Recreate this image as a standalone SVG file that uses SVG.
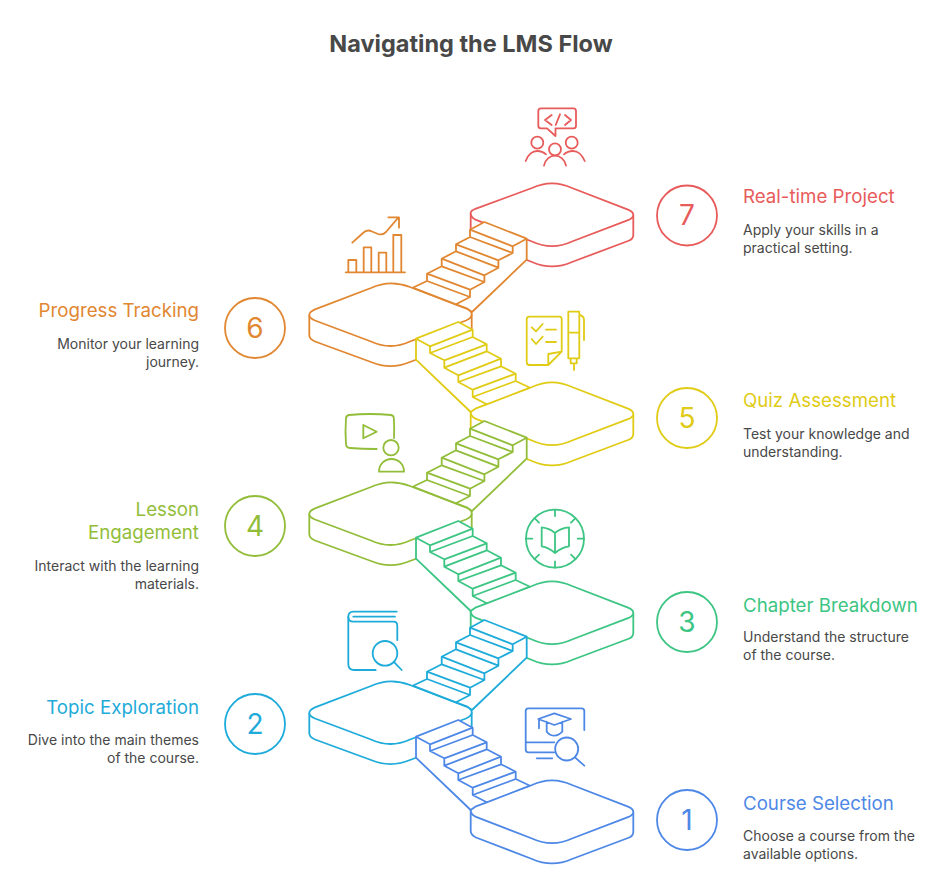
<svg xmlns="http://www.w3.org/2000/svg" width="945" height="877" viewBox="0 0 945 877">
<style>
text{font-family:Inter,"Liberation Sans",sans-serif}
.title{font-size:23.5px;font-weight:700;fill:#484848;text-anchor:middle}
.lab{font-size:18.7px;font-weight:400;fill:currentColor}
.desc{font-size:14px;fill:#484848}
.num{font-size:28px;fill:currentColor;text-anchor:middle}
.l .lab,.l .desc{text-anchor:end}
.ic,.ic *{fill:none;stroke:currentColor;stroke-width:1.8;stroke-linecap:round;stroke-linejoin:round}
.pf path,.st path,circle.b{stroke:currentColor;stroke-width:1.8;stroke-linejoin:round;fill:#fff}
.st path.n{fill:none}
.c1{color:#4e88e7}.c2{color:#1eabda}.c3{color:#3cc583}.c4{color:#92bd39}.c5{color:#e0cb15}.c6{color:#e18731}.c7{color:#e85b5b}
</style>
<defs>
<g id="platR" class="pf">
<path d="M470.7,213V234C470.7,237 473,239 476,240.500L532,262C545,267.800 559,267.800 572,262L628,241C631,240 633.300,238 633.300,235V215"/>
<path d="M470.7,213C470.7,211 473,209.800 476,208.700L532,188C545,182 559,182 572,188L628,209.700C632,211.300 633.300,213 633.300,215C633.300,217 631,219 628,220.200L572,241.500C559,247.500 545,247.500 532,241.500L476,219.900C473,218.600 470.7,216 470.7,213Z"/>
</g>
<g id="platL" class="pf">
<path d="M309.300,315V335C309.300,338 311.500,340 315,341.500L371,362C384,367.500 397,367.500 410,362L466,341C469,339.800 471.700,337.500 471.700,334V314"/>
<path d="M471.700,314C471.700,312 469,309.600 466,308.400L410,287C397,282 384,282 371,288L315,309.300C311,311 309.300,313 309.300,315C309.300,317 311.500,319 315,320.500L371,341.500C384,347.500 397,347.500 410,341.500L466,320.500C469,319.200 471.700,317 471.700,314Z"/>
</g>
<g id="stair" class="st">
<path d="M416,736.700L458.300,720L472.700,727.700V735L486.700,742.300V749.300L501,756.700V764.300L515.700,771.700V779L530,785.700L486.700,802.300L476,806.300L470.700,810L416,757.700Z"/>
<path class="n" d="M416,736.700L430,744.300V751L444.300,758.300V765.700L458.300,773.300V780L472.700,787.700V795L486.700,802.300M430,744.300L472.700,727.700M430,751L472.700,735M444.300,758.300L486.700,742.300M444.300,765.700L486.700,749.300M458.300,773.300L501,756.700M458.300,780L501,764.300M472.700,787.700L515.700,771.700M472.700,795L515.700,779"/>
</g>
</defs>
<text class="title" x="471" y="52">Navigating the LMS Flow</text>

<g id="node-7" class="c7">
<use href="#platR"/>
<circle class="b" cx="687" cy="215.500" r="30"/>
<text class="num" x="687" y="225">7</text>
<text class="lab" x="743" y="203">Real-time Project</text>
<text class="desc" x="743" y="235">Apply your skills in a</text>
<text class="desc" x="743" y="253">practical setting.</text>
<g class="ic">
<path d="M541,108.300H573.500Q576,108.300 576,111V125.700Q576,128.300 573.500,128.300H555.500V136L547,128.300H541Q538.300,128.300 538.300,125.700V111Q538.300,108.300 541,108.300Z"/>
<path d="M551.700,115L545,120L551.700,125M560,114.300L555.700,125M565,115L571,120L565,125"/>
<circle cx="537.300" cy="142.700" r="6"/><circle cx="571.700" cy="142.700" r="6"/><circle cx="555" cy="149.300" r="6"/>
<path d="M525.700,161C528,154 533,151 537,151C540.500,151 543.500,152 546,154.300M564,154.300C566.500,152 569.500,151 573,151C577,151 582,154 584.700,161M544,165.700C545,159.500 550,155.700 555,155.700C560,155.700 565,159.500 566,165.700"/>
</g>
</g>

<g id="node-6" class="c6 l">
<use href="#platL"/>
<circle class="b" cx="255" cy="328" r="30"/>
<text class="num" x="255" y="338">6</text>
<text class="lab" x="199" y="317">Progress Tracking</text>
<text class="desc" x="199" y="349">Monitor your learning</text>
<text class="desc" x="199" y="367">journey.</text>
<g class="ic">
<path d="M345.700,272.300H405M348.300,272.300V260H356.300V272.300M363.700,272.300V247.300H371.300V272.300M378.700,272.300V252.700H386.300V272.300M393.300,272.300V235H401.300V272.300"/>
<path d="M352.300,242.700L363,233C366,230 369,230 372,231.500L378,234C381,235 384,234 386,232L398.300,217.700M388.300,217.300H399V227.700"/>
</g>
</g>

<g id="node-5" class="c5">
<use href="#platR" y="199"/>
<circle class="b" cx="687" cy="418" r="30"/>
<text class="num" x="687" y="428">5</text>
<text class="lab" x="743" y="407">Quiz Assessment</text>
<text class="desc" x="743" y="439">Test your knowledge and</text>
<text class="desc" x="743" y="457">understanding.</text>
<g class="ic">
<path d="M561.700,351.700V319Q561.700,316.700 559,316.700H529.500Q526.700,316.700 526.700,319.500V362Q526.700,365 529.500,365H548.300L561.700,351.700L548.300,354V365"/>
<path d="M531.700,327.300L536,331.300L542.700,324M531.700,339L536,344L542.700,336.700M546,329.700H556M546,342H556"/>
<path d="M568.300,311.700H579.300V358.300H568.300ZM568.300,332.700H579.300M570.700,358.300V363.300H576.700V358.300M574,363.300V370M579.300,315C582,315.500 584,317.500 584,320V340"/>
</g>
</g>

<g id="node-4" class="c4 l">
<use href="#platL" y="199"/>
<circle class="b" cx="255" cy="526" r="30"/>
<text class="num" x="255" y="536">4</text>
<text class="lab" x="199" y="516">Lesson</text>
<text class="lab" x="199" y="539">Engagement</text>
<text class="desc" x="199" y="571">Interact with the learning</text>
<text class="desc" x="199" y="589">materials.</text>
<g class="ic">
<path d="M376.700,449Q362,449 350,448Q346,447.600 346,444Q345,432 346,418Q346.400,415.400 349,415Q370,413 391,415Q393.600,415.400 393.800,418Q394.500,428 394,438"/>
<path d="M363.300,425L376.700,431.700L363.300,438.300Z"/>
<circle cx="391" cy="447.700" r="7.700"/>
<path d="M379,471.700C379,464 385,459 391.500,459C398,459 404,464 404,471.700Z"/>
</g>
</g>

<g id="node-3" class="c3">
<use href="#platR" y="398"/>
<circle class="b" cx="687" cy="622" r="30"/>
<text class="num" x="687" y="632">3</text>
<text class="lab" x="743" y="612">Chapter Breakdown</text>
<text class="desc" x="743" y="642">Understand the structure</text>
<text class="desc" x="743" y="660">of the course.</text>
<g class="ic">
<circle cx="555" cy="538.700" r="29"/>
<path d="M555,509.700V516M555,561.400V567.700M526,538.700H532.300M577.700,538.700H584M534.500,518.200L539,522.700M571,554.700L575.500,559.200M575.500,518.200L571,522.700M539,554.700L534.500,559.200"/>
<path d="M555,533C551,529.500 546,527.700 541.700,527.300V546.300C546,547 551,549.500 555,553C559,549.500 564,547 569,546.300V527.300C564,527.700 559,529.500 555,533V553"/>
</g>
</g>

<g id="node-2" class="c2 l">
<use href="#platL" y="398"/>
<circle class="b" cx="255" cy="724" r="30"/>
<text class="num" x="255" y="734">2</text>
<text class="lab" x="199" y="714">Topic Exploration</text>
<text class="desc" x="199" y="745">Dive into the main themes</text>
<text class="desc" x="199" y="763">of the course.</text>
<g class="ic">
<path d="M396.700,611.700H353.300Q348.300,612 348.300,617V664Q348.300,670 354,670H375.700"/>
<path d="M353.300,616.700H395M348.300,617Q348.500,621.700 353.300,621.700H393.500Q397.300,621.700 397.300,625.700V640"/>
<circle cx="385" cy="653.300" r="12.300"/>
<path d="M394.300,662.300L401.700,670"/>
</g>
</g>

<g id="node-1" class="c1">
<use href="#platR" y="597"/>
<circle class="b" cx="687" cy="820" r="30"/>
<text class="num" x="687" y="830">1</text>
<text class="lab" x="743" y="810">Course Selection</text>
<text class="desc" x="743" y="841">Choose a course from the</text>
<text class="desc" x="743" y="859">available options.</text>
<g class="ic">
<path d="M584.300,730V711Q584.300,708.300 581.700,708.300H528.300Q525.700,708.300 525.700,711V749.500Q525.700,752.300 528.300,752.300H554.300M526.700,742.300H554.300M536.700,758.300H552.300"/>
<circle cx="566.700" cy="749" r="11.500"/>
<path d="M575,757.300L584.300,765.700"/>
<path d="M538.300,719L554.300,713.300L571,719L554.300,725ZM539,719V728.300M546.700,721.700V731.700Q550,735.700 554.300,735.700Q558.500,735.700 562.300,731.700V721.700"/>
</g>
</g>

<g id="connectors">
<use class="c6" href="#stair" transform="translate(942.700,-498) scale(-1,1)"/>
<use class="c5" href="#stair" y="-398"/>
<use class="c4" href="#stair" transform="translate(942.700,-299) scale(-1,1)"/>
<use class="c3" href="#stair" y="-199"/>
<use class="c2" href="#stair" transform="translate(942.700,-100) scale(-1,1)"/>
<use class="c1" href="#stair"/>
</g>
</svg>
